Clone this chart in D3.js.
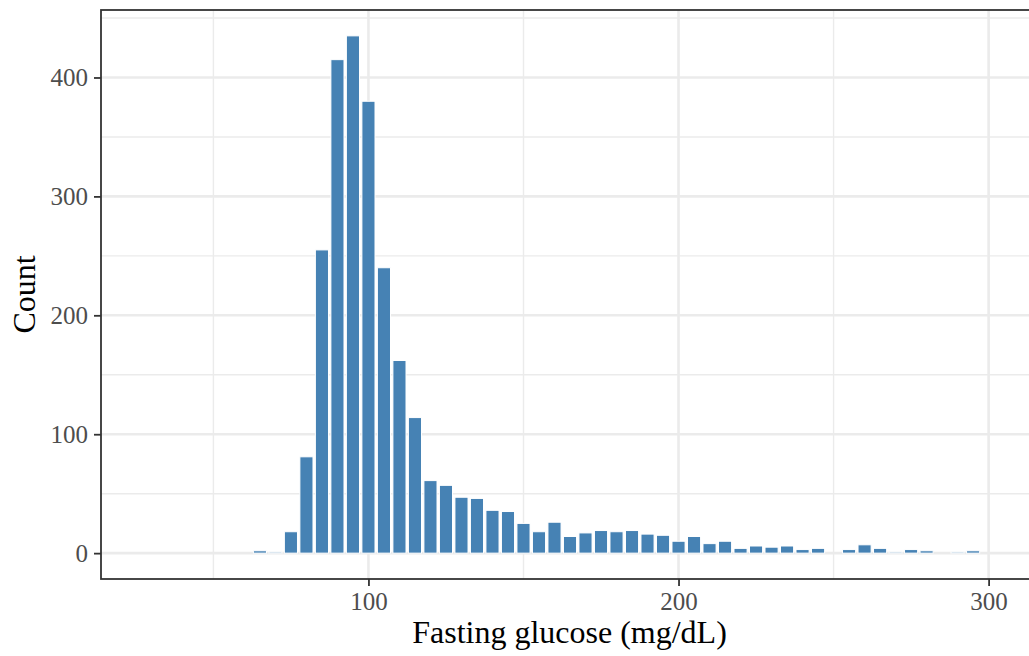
<!DOCTYPE html>
<html><head><meta charset="utf-8">
<script src="https://cdn.jsdelivr.net/npm/d3@7"></script>
<style>html,body{margin:0;padding:0;background:#fff;overflow:hidden}</style>
</head><body>
<script>
const binCenters = [30,35,40,45,50,55,60,65,70,75,80,85,90,95,100,105,110,115,120,125,130,135,140,145,150,155,160,165,170,175,180,185,190,195,200,205,210,215,220,225,230,235,240,245,250,255,260,265,270,275,280,285,290,295,300];
const counts = [0,0,0,0,0,0,0,2,1,18,81,255,415,435,380,240,162,114,61,57,47,46,36,35,25,18,26,14,17,19,18,19,16,15,10,14,8,10,4,6,5,6,3,4,0,3,7,4,1,3,2,0,1,2,0];
const binWidth = 5;
const xTicks = [100,200,300];
const xMinor = [50,150,250];
const yTicks = [0,100,200,300,400];
const yMinor = [50,150,250,350,450];
const xTitle = "Fasting glucose (mg/dL)";
const yTitle = "Count";

const W = 1029, H = 656;
const L = 101, T = 10, R = 1039, B = 579;
const svg = d3.select("body").append("svg").attr("width", W).attr("height", H);

const x = d3.scaleLinear().domain([13.75, 316.25]).range([L, R]);
const y = d3.scaleLinear().domain([-21.75, 456.75]).range([B, T]);

const g = svg.append("g");
g.append("rect").attr("x", L).attr("y", T).attr("width", R - L).attr("height", B - T).attr("fill", "#fff");

// minor grid
g.selectAll(".vminor").data(xMinor).join("line")
  .attr("x1", d => x(d)).attr("x2", d => x(d)).attr("y1", T).attr("y2", B)
  .attr("stroke", "#EBEBEB").attr("stroke-width", 1.4);
g.selectAll(".hminor").data(yMinor).join("line")
  .attr("y1", d => y(d)).attr("y2", d => y(d)).attr("x1", L).attr("x2", R)
  .attr("stroke", "#EBEBEB").attr("stroke-width", 1.4);
// major grid
g.selectAll(".vmajor").data(xTicks).join("line")
  .attr("x1", d => x(d)).attr("x2", d => x(d)).attr("y1", T).attr("y2", B)
  .attr("stroke", "#EBEBEB").attr("stroke-width", 2.6);
g.selectAll(".hmajor").data(yTicks).join("line")
  .attr("y1", d => y(d)).attr("y2", d => y(d)).attr("x1", L).attr("x2", R)
  .attr("stroke", "#EBEBEB").attr("stroke-width", 2.6);

// bars
const inset = 1.2;
const data = binCenters.map((c, i) => ({c, n: counts[i]}));
g.selectAll(".bar").data(data).join("rect")
  .attr("x", d => x(d.c - binWidth / 2) + inset)
  .attr("width", d => x(d.c + binWidth / 2) - x(d.c - binWidth / 2) - 2 * inset)
  .attr("y", d => y(d.n))
  .attr("height", d => y(0) - y(d.n))
  .attr("fill", "#4682B4").attr("stroke", "#fff").attr("stroke-width", 1);

// border
g.append("rect").attr("x", L).attr("y", T).attr("width", R - L).attr("height", B - T)
  .attr("fill", "none").attr("stroke", "#333333").attr("stroke-width", 1.8);

// axes
const fontFam = "'Liberation Serif','Times New Roman',serif";
const xAxis = svg.append("g").attr("transform", `translate(0,${B})`)
  .call(d3.axisBottom(x).tickValues(xTicks).tickSize(7).tickPadding(6).tickFormat(d3.format("d")));
const yAxis = svg.append("g").attr("transform", `translate(${L},0)`)
  .call(d3.axisLeft(y).tickValues(yTicks).tickSize(7).tickPadding(6).tickFormat(d3.format("d")));
[xAxis, yAxis].forEach(a => {
  a.select(".domain").remove();
  a.selectAll(".tick line").attr("stroke", "#333333").attr("stroke-width", 1.8);
  a.selectAll(".tick text").attr("fill", "#4D4D4D").style("font-family", fontFam).style("font-size", "25px");
});

svg.append("text").attr("x", 569.5).attr("y", 643)
  .attr("text-anchor", "middle").style("font-family", fontFam).style("font-size", "32px").attr("fill", "#000")
  .text(xTitle);
svg.append("text").attr("transform", `translate(35,${(T + B) / 2}) rotate(-90)`)
  .attr("text-anchor", "middle").style("font-family", fontFam).style("font-size", "32px").attr("fill", "#000")
  .text(yTitle);
</script>
</body></html>
